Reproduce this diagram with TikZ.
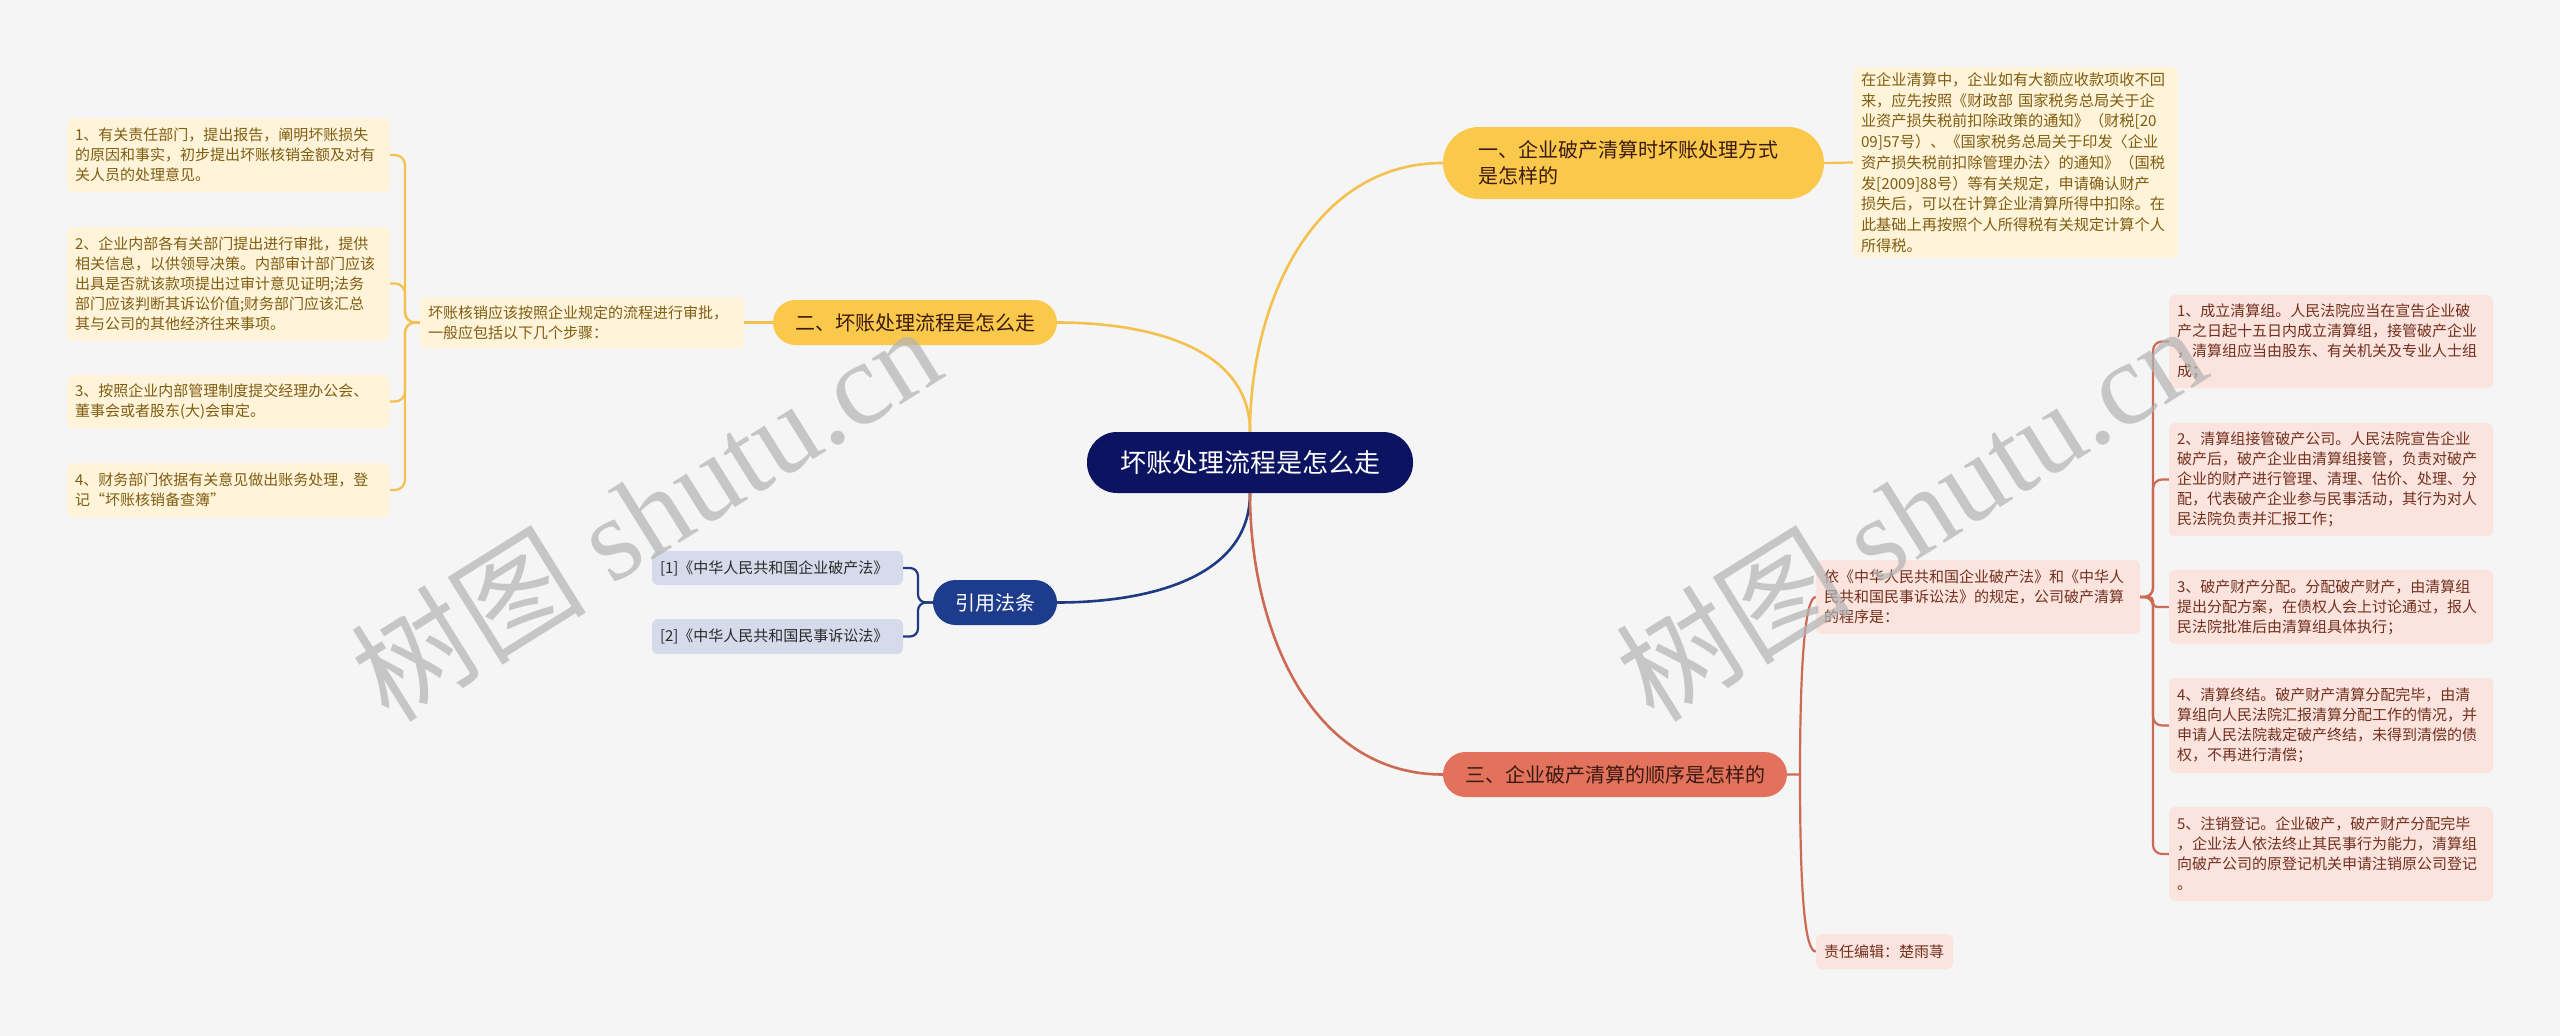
\documentclass[tikz,border=0pt]{standalone}
\usepackage{fontspec}
\setmainfont{Noto Sans CJK SC}
\newfontfamily\wmserif{Liberation Serif}
\newfontfamily\wmcjk{Noto Sans CJK SC}
\definecolor{bgc}{HTML}{F5F5F5}
\definecolor{navyc}{HTML}{0C1461}
\definecolor{yelBr}{HTML}{FAC84B}
\definecolor{yelLeaf}{HTML}{FFF3D9}
\definecolor{yelText}{HTML}{7F5E12}
\definecolor{yelLine}{HTML}{F4C04F}
\definecolor{blueBr}{HTML}{1E3C8C}
\definecolor{blueLine}{HTML}{1E3A80}
\definecolor{refLeaf}{HTML}{D5DBEB}
\definecolor{refText}{HTML}{2A2A2A}
\definecolor{redBr}{HTML}{E2725C}
\definecolor{redText}{HTML}{3B1A12}
\definecolor{redLine}{HTML}{CD6A55}
\definecolor{pinkLeaf}{HTML}{FCE4DE}
\definecolor{pinkText}{HTML}{71301F}
\definecolor{wmc}{HTML}{B4B4B4}
\begin{document}
\begin{tikzpicture}[x=1pt,y=1pt,
  base/.style={inner ysep=0pt, anchor=center},
  leaf/.style={base, align=left, rounded corners=6, inner xsep=8, font=\fontsize{15}{20}\selectfont},
  leafY/.style={leaf, fill=yelLeaf, text=yelText},
  leafP/.style={leaf, fill=pinkLeaf, text=pinkText},
  leafB/.style={leaf, fill=refLeaf, text=refText},
  branch/.style={base, align=center, font=\fontsize{20}{26}\selectfont},
  lineY/.style={draw=yelLine, line width=2.2},
  lineN/.style={draw=blueLine, line width=2.2},
  lineR/.style={draw=redLine, line width=2.2},
  wm/.style={text=wmc, text opacity=0.72, font=\fontsize{118}{118}\selectfont, inner sep=0, anchor=center}
]
\useasboundingbox (0,0) rectangle (2560,-1036);
\fill[bgc] (0,0) rectangle (2560,-1036);

% center
\node[base, fill=navyc, text=white, rounded corners=30, minimum width=326, minimum height=61, font=\fontsize{26}{30}\selectfont] (c) at (1250,-462.5) {坏账处理流程是怎么走};

% branches
\node[branch, align=left, fill=yelBr, text=redText, rounded corners=36, inner xsep=35, text width=311, minimum height=72] (B1) at (1633.5,-163) {一、企业破产清算时坏账处理方式\\是怎样的};
\node[branch, fill=yelBr, text=redText, rounded corners=22.5, minimum width=284, minimum height=45] (B2) at (915,-322.5) {二、坏账处理流程是怎么走};
\node[branch, fill=blueBr, text=white, rounded corners=22.5, minimum width=124, minimum height=45] (B3) at (995,-602.5) {引用法条};
\node[branch, fill=redBr, text=redText, rounded corners=22.5, minimum width=344, minimum height=45] (B4) at (1615,-774.5) {三、企业破产清算的顺序是怎样的};

% branch 1 leaf
\node[leafY, text width=309, minimum height=191, font=\fontsize{15.2}{20.7}\selectfont] (L1) at (2015.5,-162.5) {在企业清算中，企业如有大额应收款项收不回\\来，应先按照《财政部 国家税务总局关于企\\业资产损失税前扣除政策的通知》（财税[20\\09]57号）、《国家税务总局关于印发〈企业\\资产损失税前扣除管理办法〉的通知》（国税\\发[2009]88号）等有关规定，申请确认财产\\损失后，可以在计算企业清算所得中扣除。在\\此基础上再按照个人所得税有关规定计算个人\\所得税。};

% branch 2 leaves
\node[leafY, text width=308, minimum height=51] (L2) at (582,-322.5) {坏账核销应该按照企业规定的流程进行审批，\\一般应包括以下几个步骤：};
\node[leafY, text width=307, minimum height=74] (C1) at (228.5,-155) {1、有关责任部门，提出报告，阐明坏账损失\\的原因和事实，初步提出坏账核销金额及对有\\关人员的处理意见。};
\node[leafY, text width=307, minimum height=113] (C2) at (228.5,-283.5) {2、企业内部各有关部门提出进行审批，提供\\相关信息，以供领导决策。内部审计部门应该\\出具是否就该款项提出过审计意见证明;法务\\部门应该判断其诉讼价值;财务部门应该汇总\\其与公司的其他经济往来事项。};
\node[leafY, text width=307, minimum height=53] (C3) at (228.5,-401.5) {3、按照企业内部管理制度提交经理办公会、\\董事会或者股东(大)会审定。};
\node[leafY, text width=307, minimum height=54] (C4) at (228.5,-490) {4、财务部门依据有关意见做出账务处理，登\\记“坏账核销备查簿”};

% references
\node[leafB, text width=235, minimum height=34] (R1) at (777.5,-568) {[1]《中华人民共和国企业破产法》};
\node[leafB, text width=235, minimum height=35] (R2) at (777.5,-636.5) {[2]《中华人民共和国民事诉讼法》};

% branch 3 leaves
\node[leafP, text width=308, minimum height=74] (L4) at (1978,-597) {依《中华人民共和国企业破产法》和《中华人\\民共和国民事诉讼法》的规定，公司破产清算\\的程序是：};
\node[leafP, text width=121, minimum height=35] (E) at (1884.5,-951.5) {责任编辑：楚雨荨};
\node[leafP, text width=308, minimum height=93] (S1) at (2331,-341.5) {1、成立清算组。人民法院应当在宣告企业破\\产之日起十五日内成立清算组，接管破产企业\\，清算组应当由股东、有关机关及专业人士组\\成；};
\node[leafP, text width=308, minimum height=113] (S2) at (2331,-479.5) {2、清算组接管破产公司。人民法院宣告企业\\破产后，破产企业由清算组接管，负责对破产\\企业的财产进行管理、清理、估价、处理、分\\配，代表破产企业参与民事活动，其行为对人\\民法院负责并汇报工作；};
\node[leafP, text width=308, minimum height=74] (S3) at (2331,-607) {3、破产财产分配。分配破产财产，由清算组\\提出分配方案，在债权人会上讨论通过，报人\\民法院批准后由清算组具体执行；};
\node[leafP, text width=308, minimum height=95] (S4) at (2331,-725.5) {4、清算终结。破产财产清算分配完毕，由清\\算组向人民法院汇报清算分配工作的情况，并\\申请人民法院裁定破产终结，未得到清偿的债\\权，不再进行清偿；};
\node[leafP, text width=308, minimum height=94] (S5) at (2331,-854) {5、注销登记。企业破产，破产财产分配完毕\\，企业法人依法终止其民事行为能力，清算组\\向破产公司的原登记机关申请注销原公司登记\\。};

% main connectors
\draw[lineY, line width=2.6] (c.north) to[out=90,in=180] (B1.west);
\draw[lineY, line width=2.6] (c.north) to[out=90,in=0] (B2.east);
\draw[lineN, line width=2.6] (c.south) to[out=-90,in=0] (B3.east);
\draw[lineR, line width=2.6] (c.south) to[out=-90,in=180] (B4.west);

% leaf connectors
\draw[lineY] (B1.east) -- (L1.west);
\draw[lineY] (B2.west) -- (L2.east);
\coordinate (cs) at (405,-322.5);
\foreach \n in {C1,C2,C3,C4} \draw[lineY, rounded corners=10] (L2.west) -- (cs) |- (\n.east);
\coordinate (rs) at (918,-602.5);
\foreach \n in {R1,R2} \draw[lineN, rounded corners=8] (B3.west) -- (rs) |- (\n.east);
\coordinate (bs) at (1800,-774.5);
\draw[lineR] (B4.east) -- (bs) .. controls +(0,120) and +(-10,0) .. (L4.west);
\draw[lineR] (bs) .. controls +(0,-130) and +(-10,0) .. (E.west);
\coordinate (ss) at (2153,-597);
\foreach \n in {S1,S2,S4,S5} \draw[lineR, rounded corners=9] (L4.east) -- (ss) |- (\n.west);
\draw[lineR, rounded corners=4] (L4.east) -- (ss) |- (S3.west);

% watermark
\node[wm, rotate=32] (wm1) at (645,-512) {{\wmcjk 树图} {\wmserif shutu.cn}};
\node[wm, rotate=32] (wm2) at (1910,-512) {{\wmcjk 树图} {\wmserif shutu.cn}};
\end{tikzpicture}
\end{document}
